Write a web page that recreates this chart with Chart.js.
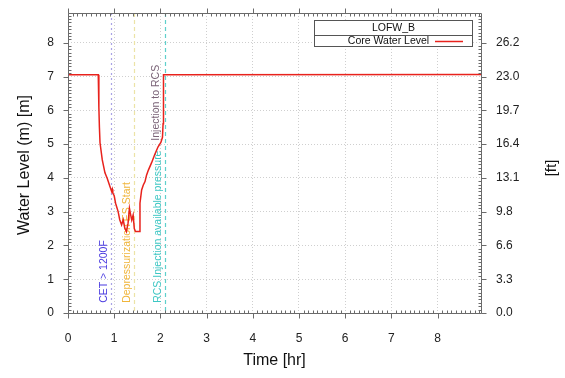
<!DOCTYPE html>
<html>
<head>
<meta charset="utf-8">
<script src="https://cdn.jsdelivr.net/npm/chart.js@4.4.1/dist/chart.umd.min.js"></script>
<style>
  html, body { margin: 0; padding: 0; background: #ffffff; }
  #wrap { width: 565px; height: 378px; position: relative; }
</style>
</head>
<body>
<div id="wrap"><canvas id="c" width="565" height="378"></canvas></div>
<script>
// ---- Data ----
const timeHr = [0, 0.655, 0.668, 0.68, 0.693, 0.742, 0.80, 0.85, 0.91, 0.945, 0.96, 0.97, 1.0,
  1.03, 1.085, 1.12, 1.16, 1.195, 1.23, 1.265, 1.30, 1.33, 1.35, 1.38, 1.41, 1.435, 1.46,
  1.537, 1.558, 1.594, 1.63, 1.667, 1.70, 1.74, 1.81, 1.88, 1.95, 2.01, 2.045, 2.058, 2.067, 8.94];
const levelM = [7.05, 7.05, 6.1, 5.5, 5.04, 4.53, 4.15, 3.98, 3.74, 3.6, 3.66, 3.55, 3.47,
  3.25, 3.0, 2.76, 2.61, 2.76, 2.51, 2.41, 2.66, 3.1, 2.95, 2.75, 2.9, 2.5, 2.41,
  2.41, 3.25, 3.64, 3.79, 3.89, 4.08, 4.23, 4.45, 4.7, 4.92, 5.05, 5.2, 5.6, 7.05, 7.06];
const xTicks = [0, 1, 2, 3, 4, 5, 6, 7, 8];
const yTicks = [0, 1, 2, 3, 4, 5, 6, 7, 8];
const eventTimes = [0.924, 1.43, 2.106, 2.06];
const eventLabels = ['CET > 1200F', 'Depressurization ES Start', 'RCS Injection available pressure', 'Injection to RCS'];
const eventLabelStartM = [0.3, 0.3, 0.3, 5.1];
const seriesName = 'Core Water Level';
const legendTitle = 'LOFW_B';
const M_TO_FT = 3.28084;

// ---- Styles ----
const FONT = '"Liberation Sans", Arial, sans-serif';
const eventStyles = [
  { line: '#a9a2e6', text: '#4a3be0', dash: [2, 3] },
  { line: '#ece3a6', text: '#f0b53a', dash: [4, 3] },
  { line: '#5fd0cc', text: '#3ec7c4', dash: [4, 3] },
  { line: null, text: '#7b6478', dash: [4, 3] }
];

const decorPlugin = {
  id: 'decor',
  beforeDatasetsDraw(chart) {
    const ctx = chart.ctx;
    const xs = chart.scales.x, ys = chart.scales.y;
    const a = chart.chartArea;
    ctx.save();
    eventTimes.forEach((t, i) => {
      const px = Math.round(xs.getPixelForValue(t)) + 0.5;
      const st = eventStyles[i];
      if (st.line) {
        ctx.strokeStyle = st.line;
        ctx.lineWidth = 1.2;
        ctx.setLineDash(st.dash);
        ctx.beginPath();
        ctx.moveTo(px, a.top);
        ctx.lineTo(px, a.bottom);
        ctx.stroke();
        ctx.setLineDash([]);
      }
      const py = ys.getPixelForValue(eventLabelStartM[i]);
      ctx.save();
      ctx.translate(px - 2, py);
      ctx.rotate(-Math.PI / 2);
      ctx.fillStyle = st.text;
      ctx.font = '10.5px ' + FONT;
      ctx.textAlign = 'left';
      ctx.textBaseline = 'bottom';
      ctx.fillText(eventLabels[i], 0, 0);
      ctx.restore();
    });
    ctx.restore();
  },
  afterDraw(chart) {
    const ctx = chart.ctx;
    const xs = chart.scales.x, ys = chart.scales.y;
    const a = chart.chartArea;
    const L = Math.round(a.left) + 0.5, R = Math.round(a.right) + 0.5;
    const T = Math.round(a.top) + 0.5, B = Math.round(a.bottom) + 0.5;
    ctx.save();
    ctx.strokeStyle = '#6a6a6a';
    ctx.lineWidth = 1;
    ctx.beginPath();
    ctx.rect(L, T, R - L, B - T);
    ctx.stroke();
    // ticks
    ctx.beginPath();
    for (let k = 0; k <= Math.floor(xs.max * 10 + 1e-6); k++) {
      const v = k / 10;
      const px = Math.round(xs.getPixelForValue(v)) + 0.5;
      if (k % 10 === 0) {
        ctx.moveTo(px, B); ctx.lineTo(px, B + 5);
        ctx.moveTo(px, T); ctx.lineTo(px, T - 5);
      } else {
        ctx.moveTo(px, B); ctx.lineTo(px, B - 3);
        ctx.moveTo(px, T); ctx.lineTo(px, T + 3);
      }
    }
    for (let k = 0; k <= Math.floor(ys.max * 10 + 1e-6); k++) {
      const v = k / 10;
      const py = Math.round(ys.getPixelForValue(v)) + 0.5;
      if (k % 10 === 0) {
        ctx.moveTo(L, py); ctx.lineTo(L - 5, py);
        ctx.moveTo(R, py); ctx.lineTo(R + 5, py);
      } else {
        ctx.moveTo(L, py); ctx.lineTo(L + 3, py);
        ctx.moveTo(R, py); ctx.lineTo(R - 3, py);
      }
    }
    ctx.stroke();

    // axis titles
    ctx.fillStyle = '#111';
    ctx.font = '16px ' + FONT;
    ctx.textAlign = 'center';
    ctx.textBaseline = 'middle';
    ctx.fillText('Time [hr]', (a.left + a.right) / 2, 361);
    ctx.save();
    ctx.translate(25, (a.top + a.bottom) / 2 + 2);
    ctx.rotate(-Math.PI / 2);
    ctx.fillText('Water Level (m) [m]', 0, 0);
    ctx.restore();
    ctx.save();
    ctx.font = '15px ' + FONT;
    ctx.translate(552, (a.top + a.bottom) / 2 + 5);
    ctx.rotate(-Math.PI / 2);
    ctx.fillText('[ft]', 0, 0);
    ctx.restore();

    // legend box
    const bx = 314.5, by = 20.5, bw = 158, bh = 26, mid = 35.5;
    ctx.fillStyle = '#ffffff';
    ctx.fillRect(bx, by, bw, bh);
    ctx.strokeStyle = '#555';
    ctx.lineWidth = 1;
    ctx.strokeRect(bx, by, bw, bh);
    ctx.beginPath();
    ctx.moveTo(bx, mid); ctx.lineTo(bx + bw, mid);
    ctx.stroke();
    ctx.fillStyle = '#111';
    ctx.font = '10.5px ' + FONT;
    ctx.textAlign = 'center';
    ctx.textBaseline = 'middle';
    ctx.fillText(legendTitle, bx + bw / 2, 28.5);
    ctx.fillText(chart.data.datasets[0].label, 388.5, 41.5);
    ctx.strokeStyle = chart.data.datasets[0].borderColor;
    ctx.lineWidth = 1.5;
    ctx.beginPath();
    ctx.moveTo(435, 41.5); ctx.lineTo(463, 41.5);
    ctx.stroke();
    ctx.restore();
  }
};

const points = timeHr.map((t, i) => ({ x: t, y: levelM[i] }));
const hiddenTick = 'rgba(0,0,0,0)';

new Chart(document.getElementById('c'), {
  type: 'line',
  data: {
    datasets: [{
      label: seriesName,
      data: points,
      borderColor: '#e8221c',
      borderWidth: 1.5,
      pointRadius: 0,
      tension: 0,
      fill: false,
      yAxisID: 'y'
    }]
  },
  options: {
    responsive: false,
    animation: false,
    devicePixelRatio: 1,
    layout: { padding: { top: 13, left: 0, right: 0, bottom: 0 } },
    plugins: { legend: { display: false }, tooltip: { enabled: false } },
    scales: {
      x: {
        type: 'linear',
        position: 'bottom',
        min: 0,
        max: 8.94,
        afterBuildTicks: (s) => { s.ticks = xTicks.map(v => ({ value: v })); },
        afterFit: (s) => { s.height = 65; },
        grid: { color: '#cfcfcf', lineWidth: 1, drawTicks: true, tickLength: 18, tickColor: hiddenTick },
        border: { display: false, dash: [1, 2] },
        ticks: {
          font: { family: FONT, size: 12 },
          color: '#222',
          padding: 0,
          maxRotation: 0,
          callback: (v) => String(v)
        }
      },
      y: {
        type: 'linear',
        position: 'left',
        min: 0,
        max: 8.88,
        afterBuildTicks: (s) => { s.ticks = yTicks.map(v => ({ value: v })); },
        afterFit: (s) => { s.width = 68; },
        grid: { color: '#cfcfcf', lineWidth: 1, drawTicks: true, tickLength: 14, tickColor: hiddenTick },
        border: { display: false, dash: [1, 2] },
        ticks: {
          font: { family: FONT, size: 12 },
          color: '#222',
          padding: 0,
          callback: (v) => String(v)
        }
      },
      y2: {
        type: 'linear',
        position: 'right',
        min: 0,
        max: 8.88,
        afterBuildTicks: (s) => { s.ticks = yTicks.map(v => ({ value: v })); },
        afterFit: (s) => { s.width = 84; },
        grid: { display: true, drawOnChartArea: false, drawTicks: true, tickLength: 15, tickColor: hiddenTick },
        border: { display: false },
        ticks: {
          font: { family: FONT, size: 12 },
          color: '#222',
          padding: 0,
          callback: (v) => (v * M_TO_FT).toFixed(1)
        }
      }
    }
  },
  plugins: [decorPlugin]
});
</script>
</body>
</html>
